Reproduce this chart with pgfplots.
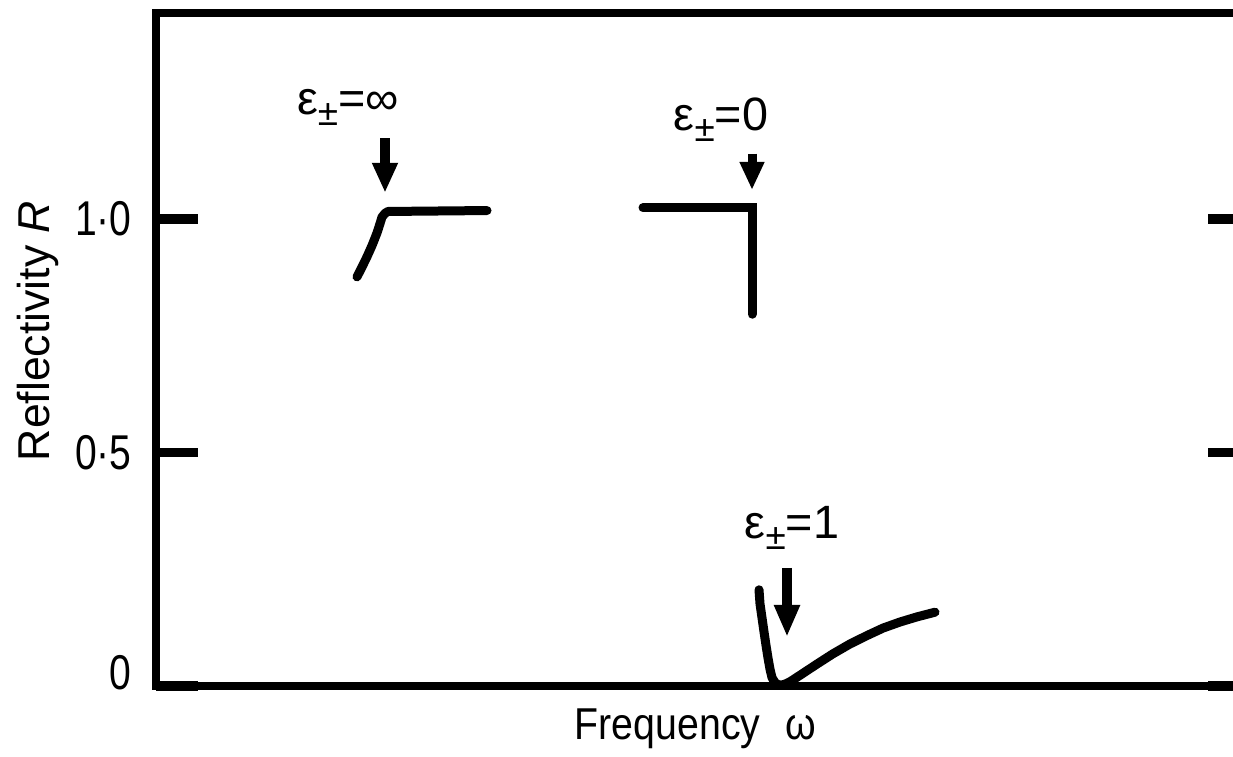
\documentclass[border=0pt]{standalone}
\usepackage{pgfplots}
\pgfplotsset{compat=1.18}
\usepackage{graphicx}
\usepackage{fontspec}
\setmainfont{Liberation Sans}
\usetikzlibrary{arrows.meta}
\newcommand{\epsl}[1]{ε\raisebox{-0.45ex}{\fontsize{10.5}{12}\selectfont ±}=#1}
\begin{document}
\begin{tikzpicture}
\begin{axis}[
  at={(1.56cm,0.71cm)}, anchor=south west,
  scale only axis,
  width=10.94cm, height=6.73cm,
  xmin=156, xmax=1250,
  ymin=0, ymax=1.441,
  xtick=\empty,
  ytick={0,0.5,1},
  yticklabels={\raisebox{2.8mm}{\scalebox{0.8}[1]{0}},\scalebox{0.8}[1]{0·5},\scalebox{0.8}[1]{1·0}},
  yticklabel pos=left,
  yticklabel style={font=\fontsize{13.9}{16}\selectfont, xshift=-1.2mm},
  tick align=inside,
  major tick length=4.2mm,
  tick style={line width=0.95mm, black},
  axis line style={line width=0.8mm, black},
  xlabel={\scalebox{0.88}[1]{Frequency\hspace{2.8mm}ω}},
  ylabel={Reflectivity \textit{R}},
  label style={font=\fontsize{12.7}{15}\selectfont},
  xlabel style={at={(rel axis cs:0.493,-0.0802)}, anchor=base},
  ylabel style={at={(rel axis cs:-0.0969,0.5275)}, anchor=base},
  clip=false,
]
% epsilon = infinity branch
\addplot[black, line width=0.9mm, line join=round, line cap=round] coordinates {
  (357,0.876) (362,0.897) (367,0.919) (372,0.943) (377,0.970)
  (380,0.990) (382,1.004) (385,1.012) (388,1.016) (487,1.018)
};
% epsilon = 0 branch
\addplot[black, line width=0.9mm, line join=miter, line cap=round] coordinates {
  (643,1.024) (752,1.024) (752,0.796)
};
% epsilon = 1 branch
\addplot[black, line width=0.9mm, line join=round, line cap=round] coordinates {
  (759,0.206) (760,0.176) (762,0.146) (764,0.116) (766,0.087) (768,0.060)
  (770,0.036) (772,0.018) (775,0.007) (779,0.002) (784,0.003) (790,0.009)
  (800,0.023) (817,0.047) (833,0.069) (850,0.090) (867,0.108) (883,0.124)
  (900,0.137) (917,0.148) (935,0.158)
};
% arrows
\draw[line width=1mm, -{Triangle[length=3mm, width=2.4mm]}] (axis cs:385,1.173) -- (axis cs:385,1.056);
\draw[line width=0.9mm, -{Triangle[length=2.8mm, width=2.3mm]}] (axis cs:752,1.140) -- (axis cs:752,1.062);
\draw[line width=1mm, -{Triangle[length=3.2mm, width=2.4mm]}] (axis cs:787,0.253) -- (axis cs:787,0.105);
% labels
\node[anchor=base, font=\fontsize{13.3}{15}\selectfont, inner sep=0pt] at (axis cs:348,1.223) {\epsl{∞}};
\node[anchor=base, font=\fontsize{13.3}{15}\selectfont, inner sep=0pt] at (axis cs:721,1.190) {\epsl{0}};
\node[anchor=base, font=\fontsize{13.3}{15}\selectfont, inner sep=0pt] at (axis cs:792,0.315) {\epsl{1}};
\end{axis}
\pgfresetboundingbox
\path[use as bounding box] (0,0) rectangle (12.33cm,7.57cm);
\end{tikzpicture}
\end{document}
